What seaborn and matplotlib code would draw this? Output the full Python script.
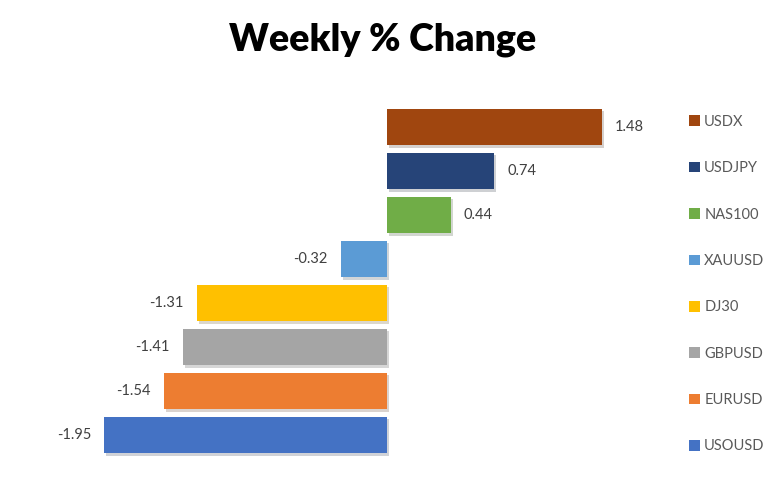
import matplotlib
matplotlib.use('Agg')
from matplotlib import pyplot as plt
from matplotlib import patheffects as pe
import seaborn as sns
import pandas as pd

# datos
simbolos = ['USDX', 'USDJPY', 'NAS100', 'XAUUSD', 'DJ30', 'GBPUSD', 'EURUSD', 'USOUSD']
cambios = [1.48, 0.74, 0.44, -0.32, -1.31, -1.41, -1.54, -1.95]
colores = ['#A0460F', '#264478', '#70AD47', '#5B9BD5', '#FFC000', '#A5A5A5', '#ED7D31', '#4472C4']

df = pd.DataFrame({'simbolo': simbolos, 'cambio': cambios})

sns.set_theme(style='white')
plt.rcParams['font.family'] = ['Lato', 'DejaVu Sans']

fig = plt.figure(figsize=(7.79, 4.86), dpi=100)
ax = fig.add_axes([0.0, 1 - 457 / 486, 1.0, (457 - 105) / 486])

sns.barplot(data=df, x='cambio', y='simbolo', hue='simbolo', order=simbolos,
            hue_order=simbolos, palette=colores, orient='h', width=0.84,
            dodge=False, legend=True, ax=ax, saturation=1, linewidth=0)

for p in ax.patches:
    p.set_path_effects([pe.SimplePatchShadow(offset=(1.5, -2), alpha=0.2), pe.Normal()])

for i, v in enumerate(cambios):
    if v >= 0:
        ax.text(v + 0.09, i, f'{v:.2f}', va='center', ha='left', fontsize=10.5, color='#404040')
    else:
        ax.text(v - 0.09, i, f'{v:.2f}', va='center', ha='right', fontsize=10.5, color='#404040')

# escala: cero en x=387 px, ~145 px por unidad
ax.set_xlim(-387 / 145, (779 - 387) / 145)
ax.set_ylim(7.5, -0.5)
ax.set_xlabel('')
ax.set_ylabel('')
ax.set_xticks([])
ax.set_yticks([])
sns.despine(ax=ax, left=True, bottom=True)

sns.move_legend(ax, 'upper left', bbox_to_anchor=(683 / 779, 1 - 109 / 486),
                bbox_transform=fig.transFigure, frameon=False, title=None,
                fontsize=10.5, labelspacing=2.22, handlelength=0.75, handleheight=0.75,
                handletextpad=0.3, borderaxespad=0)
for t in ax.get_legend().get_texts():
    t.set_color('#595959')

fig.text(383 / 779, 1 - 40 / 486, 'Weekly % Change', ha='center', va='center',
         fontsize=27, fontweight='heavy', color='black')

fig.savefig('out.png', dpi=100)
